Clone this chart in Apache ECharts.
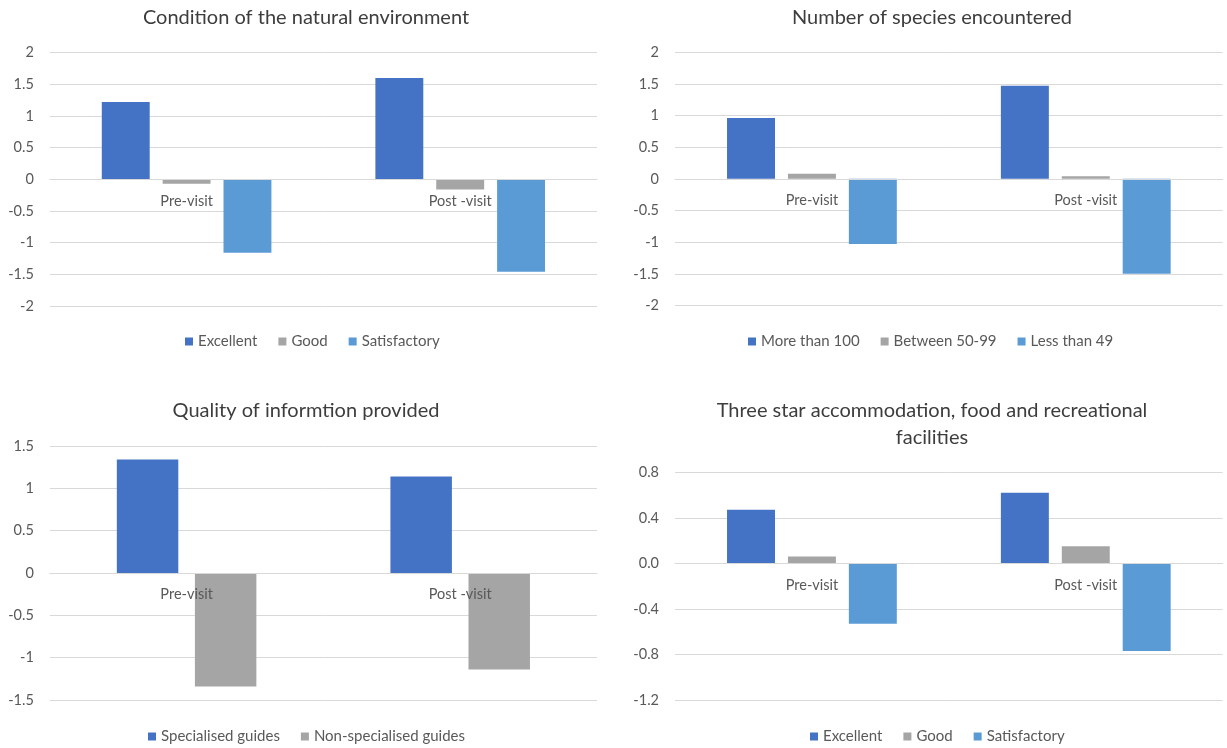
<!DOCTYPE html>
<html>
<head>
<meta charset="utf-8">
<title>Visitor perception, pre-visit vs post-visit</title>
<script src="https://cdn.jsdelivr.net/npm/echarts@6/dist/echarts.min.js"></script>
<style>
  html, body { margin: 0; padding: 0; background: #ffffff; }
  #chart { width: 1227px; height: 748px; }
</style>
</head>
<body>
<div id="chart"></div>
<script>
// Categories shared by all four panels
const categories = ['Pre-visit', 'Post -visit'];

// Panel 1: Condition of the natural environment
const envTitle = 'Condition of the natural environment';
const envNames = ['Excellent', 'Good', 'Satisfactory'];
const envExcellent = [1.22, 1.60];
const envGood = [-0.07, -0.16];
const envSatisfactory = [-1.16, -1.46];
const envTicks = { min: -2, max: 2, interval: 0.5 };

// Panel 2: Number of species encountered
const speciesTitle = 'Number of species encountered';
const speciesNames = ['More than 100', 'Between 50-99', 'Less than 49'];
const speciesMore100 = [0.96, 1.47];
const species50to99 = [0.08, 0.04];
const speciesLess49 = [-1.03, -1.50];
const speciesTicks = { min: -2, max: 2, interval: 0.5 };

// Panel 3: Quality of information provided
const infoTitle = 'Quality of informtion provided';
const infoNames = ['Specialised guides', 'Non-specialised guides'];
const infoSpecialised = [1.34, 1.14];
const infoNonSpecialised = [-1.34, -1.14];
const infoTicks = { min: -1.5, max: 1.5, interval: 0.5 };

// Panel 4: Three star accommodation, food and recreational facilities
const facTitle = 'Three star accommodation, food and recreational\nfacilities';
const facNames = ['Excellent', 'Good', 'Satisfactory'];
const facExcellent = [0.47, 0.62];
const facGood = [0.06, 0.15];
const facSatisfactory = [-0.53, -0.77];
const facTicks = { min: -1.2, max: 0.8, interval: 0.4, decimals: 1 };

const COLORS = ['#4472C4', '#A5A5A5', '#5B9BD5'];
const FONT = 'Lato, "Open Sans", sans-serif';
const TEXT = '#595959';
const TITLE_TEXT = '#3d3d3d';
const GRIDLINE = '#d9d9d9';

// Panel geometry (plot rectangles, title and legend anchors)
const panels = [
  { title: envTitle, titleX: 306, titleY: 17.5, names: envNames,
    values: [envExcellent, envGood, envSatisfactory], ticks: envTicks,
    grid: { left: 49.8, width: 547.2, top: 52.7, height: 253.3 },
    legend: { left: 185, top: 334 }, catGap: '38%' },
  { title: speciesTitle, titleX: 932, titleY: 17.5, names: speciesNames,
    values: [speciesMore100, species50to99, speciesLess49], ticks: speciesTicks,
    grid: { left: 675, width: 547.7, top: 52.2, height: 253.3 },
    legend: { left: 748, top: 334 }, catGap: '38%' },
  { title: infoTitle, titleX: 306, titleY: 410.5, names: infoNames,
    values: [infoSpecialised, infoNonSpecialised], ticks: infoTicks,
    grid: { left: 49.8, width: 547.2, top: 446, height: 254 },
    legend: { left: 148, top: 729 }, catGap: '49%' },
  { title: facTitle, titleX: 932, titleY: 410.5, names: facNames,
    values: [facExcellent, facGood, facSatisfactory], ticks: facTicks,
    grid: { left: 675, width: 547.7, top: 472.3, height: 227.7 },
    legend: { left: 810, top: 729 }, catGap: '38%' }
];

const option = {
  animation: false,
  backgroundColor: '#ffffff',
  textStyle: { fontFamily: FONT },
  grid: [], xAxis: [], yAxis: [], legend: [], series: [], graphic: []
};

panels.forEach(function (p, i) {
  option.grid.push(Object.assign({ containLabel: false }, p.grid));

  // The category axis sits on the zero line: lift it from the plot bottom
  // by the share of the value range that lies below zero.
  const belowZero = (0 - p.ticks.min) / (p.ticks.max - p.ticks.min);
  option.xAxis.push({
    type: 'category',
    gridIndex: i,
    data: categories,
    position: 'bottom',
    offset: -p.grid.height * belowZero,
    z: 10,
    axisLine: { show: true, onZero: false, lineStyle: { color: GRIDLINE, width: 1 } },
    axisTick: { show: false },
    axisLabel: { color: TEXT, fontSize: 14.5, fontFamily: FONT, margin: 14 },
    splitLine: { show: false }
  });

  option.yAxis.push({
    type: 'value',
    gridIndex: i,
    min: p.ticks.min,
    max: p.ticks.max,
    interval: p.ticks.interval,
    axisLine: { show: false },
    axisTick: { show: false },
    axisLabel: {
      color: TEXT, fontSize: 14.5, fontFamily: FONT, margin: 16,
      formatter: function (v) {
        return p.ticks.decimals ? v.toFixed(p.ticks.decimals) : String(Math.round(v * 100) / 100);
      }
    },
    splitLine: { show: true, lineStyle: { color: GRIDLINE, width: 1 } }
  });

  option.legend.push({
    left: p.legend.left,
    top: p.legend.top,
    padding: 0,
    itemWidth: 8,
    itemHeight: 8,
    itemGap: 21,
    icon: 'rect',
    data: p.names,
    textStyle: { color: TEXT, fontSize: 15, fontFamily: FONT }
  });

  p.names.forEach(function (name, k) {
    option.series.push({
      type: 'bar',
      name: name,
      xAxisIndex: i,
      yAxisIndex: i,
      data: p.values[k],
      barGap: '27%',
      barCategoryGap: p.catGap,
      itemStyle: { color: COLORS[k] }
    });
  });

  // Chart title; the first line is centred on titleY
  option.graphic.push({
    type: 'text',
    x: p.titleX,
    y: p.titleY - 13.5,
    z: 20,
    style: {
      text: p.title,
      fill: TITLE_TEXT,
      font: '20px ' + FONT,
      align: 'center',
      verticalAlign: 'top',
      lineHeight: 27
    }
  });
});

const chart = echarts.init(document.getElementById('chart'), null, { renderer: 'canvas' });
chart.setOption(option);
</script>
</body>
</html>
